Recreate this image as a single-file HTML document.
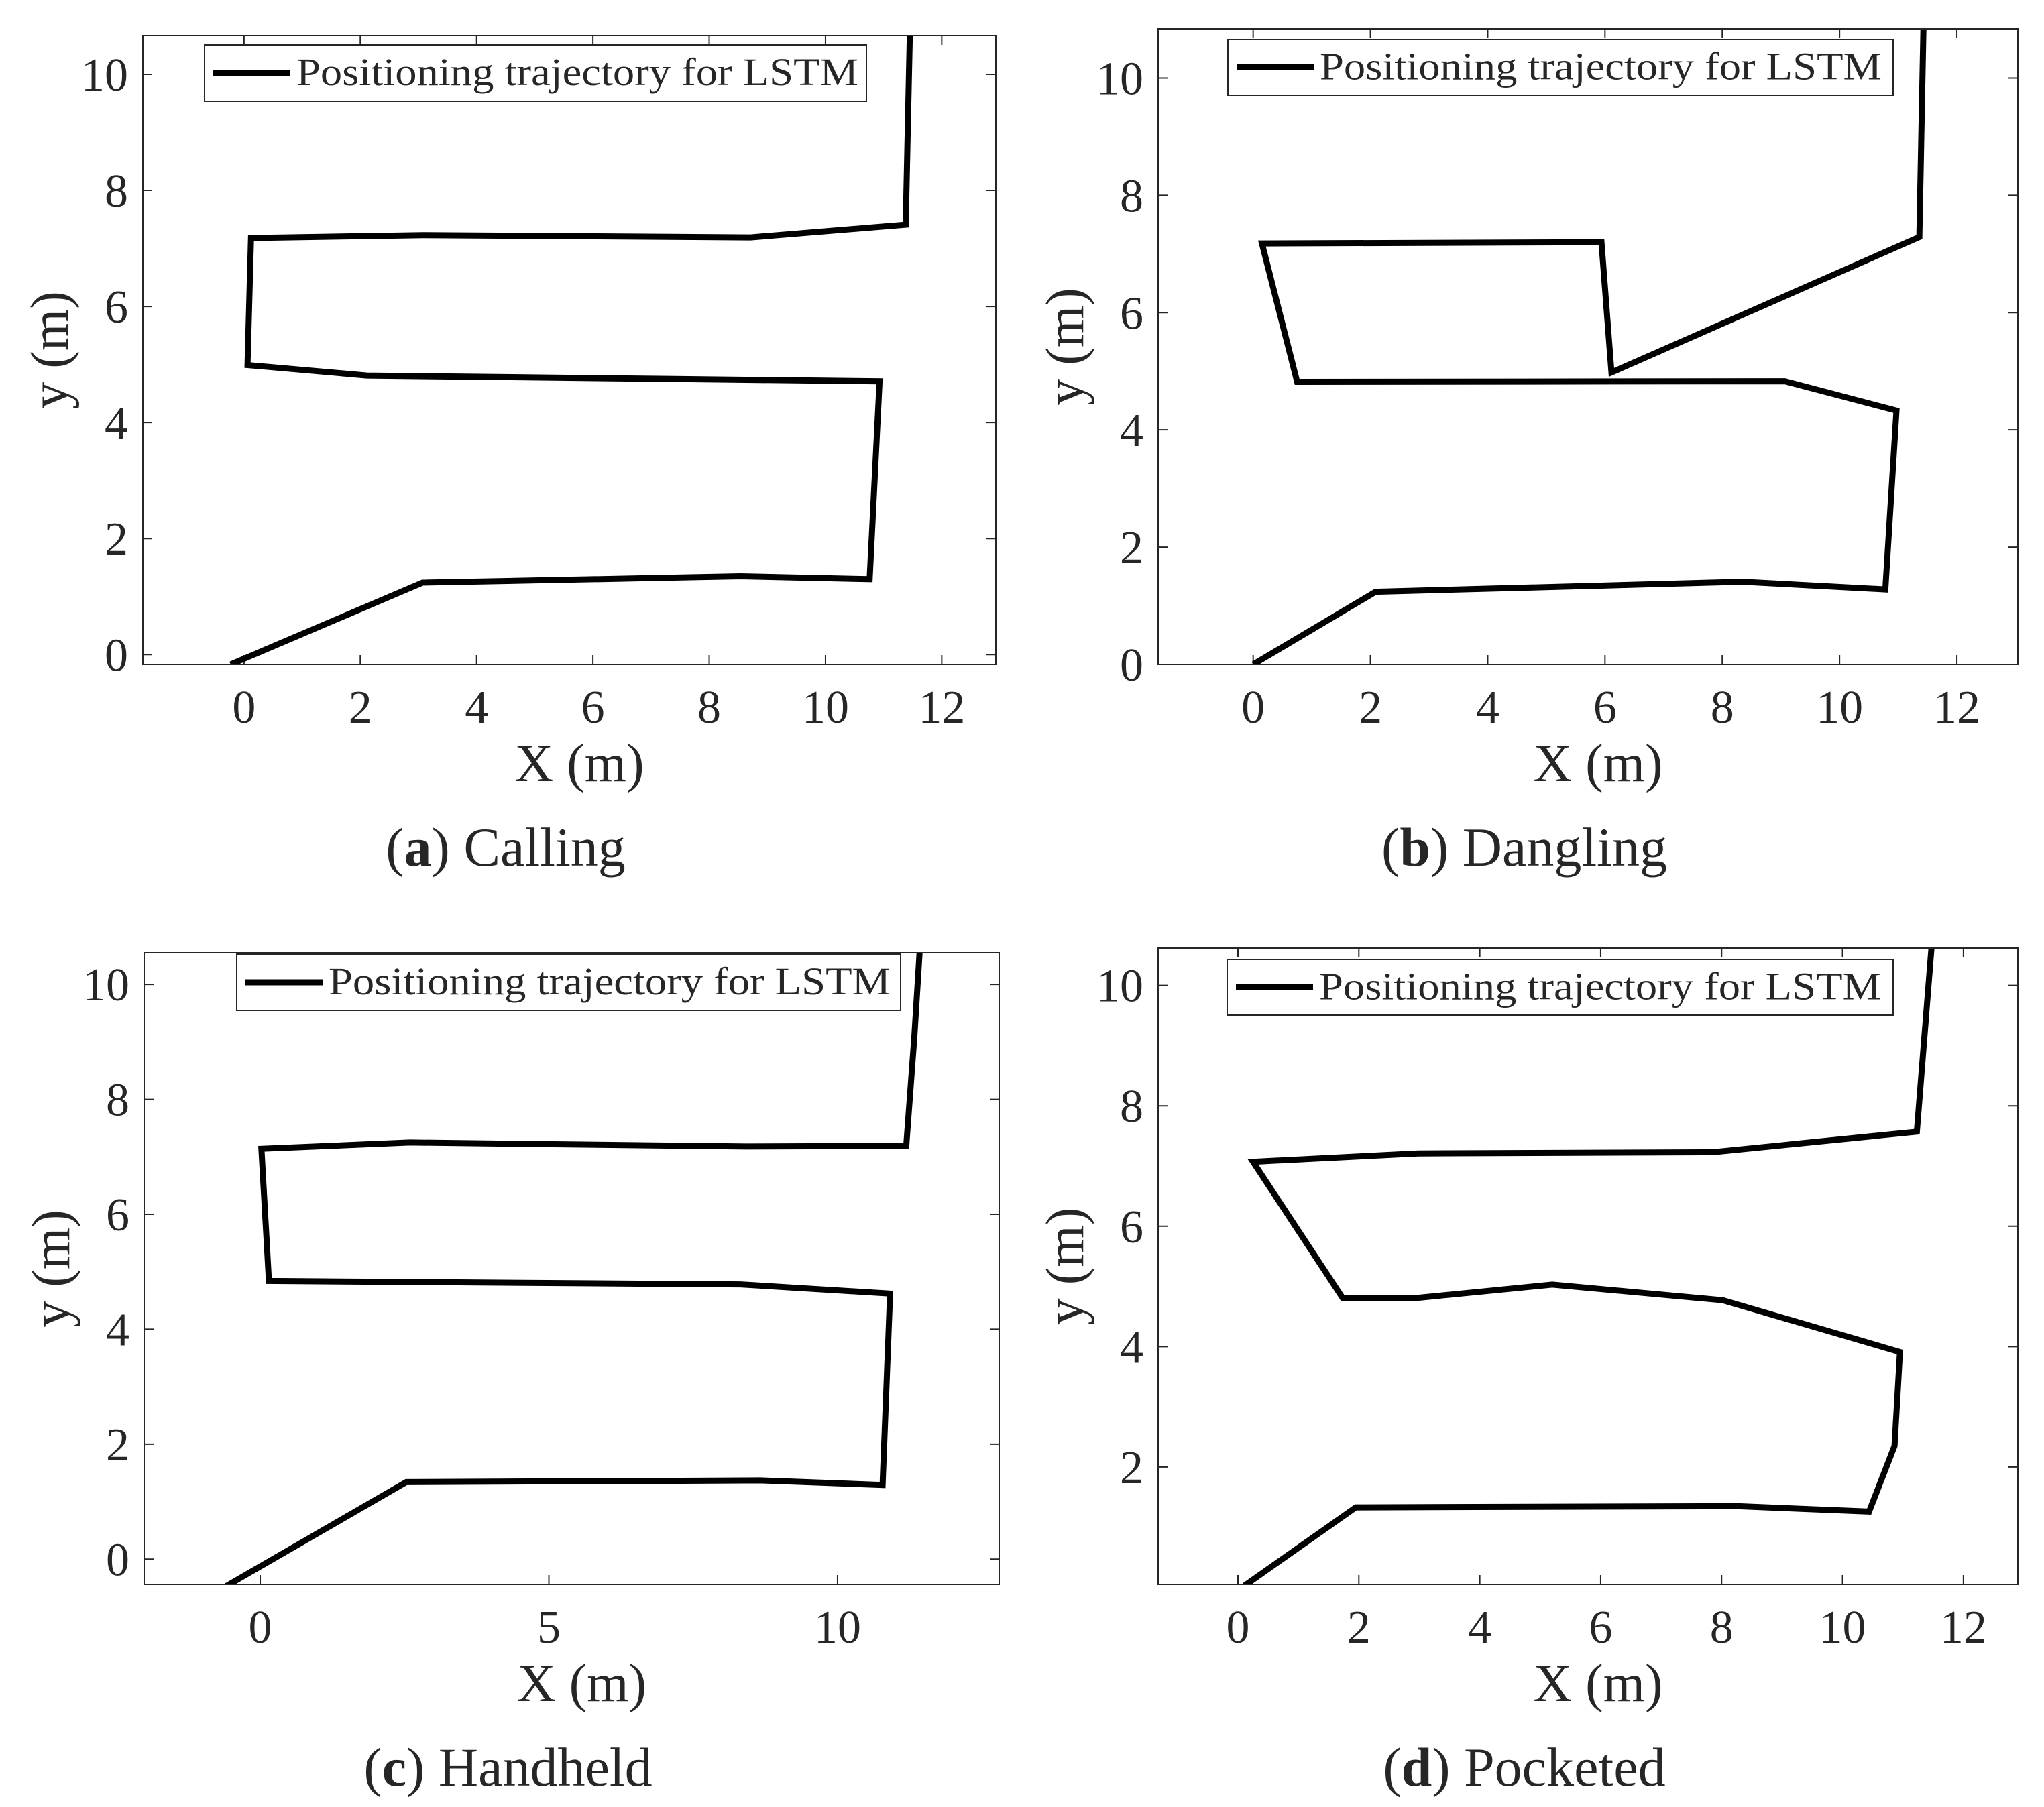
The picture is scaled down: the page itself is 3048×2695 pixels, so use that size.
<!DOCTYPE html>
<html><head><meta charset="utf-8"><style>
html,body{margin:0;padding:0;background:#fff;overflow:hidden;}
svg{display:block;}
text{font-family:"Liberation Serif",serif;fill:#262626;}
</style></head><body>
<svg id="fig" width="3048" height="2695" viewBox="0 0 3048 2695" xmlns="http://www.w3.org/2000/svg"></svg>
<script>
// Panel a: Calling
const callingX = [-0.23, 3.07, 8.54, 10.76, 10.93, 2.11, 0.06, 0.12, 3.07, 8.71, 11.38, 11.45];
const callingY = [-0.17, 1.24, 1.35, 1.30, 4.71, 4.81, 4.99, 7.18, 7.23, 7.19, 7.41, 10.67];
// Panel b: Dangling
const danglingX = [0, 2.09, 8.35, 10.78, 10.97, 9.07, 0.75, 0.15, 5.94, 6.11, 11.36, 11.43];
const danglingY = [0, 1.24, 1.41, 1.28, 4.33, 4.83, 4.82, 7.18, 7.20, 4.98, 7.29, 10.84];
// Panel c: Handheld
const handheldX = [-0.59, 2.53, 8.66, 10.78, 10.91, 8.32, 0.15, 0.02, 2.59, 8.43, 11.19, 11.33, 11.42];
const handheldY = [-0.47, 1.34, 1.37, 1.29, 4.62, 4.78, 4.84, 7.14, 7.25, 7.18, 7.19, 9.08, 10.54];
// Panel d: Pocketed
const pocketedX = [0.11, 1.95, 8.24, 10.44, 10.86, 10.95, 8.02, 5.20, 2.98, 1.73, 0.25, 2.98, 7.86, 11.23, 11.47];
const pocketedY = [0.03, 1.33, 1.35, 1.26, 2.35, 3.91, 4.77, 5.03, 4.81, 4.81, 7.07, 7.21, 7.23, 7.57, 10.61];
// ticks
const xTicksA = [0, 2, 4, 6, 8, 10, 12];
const xTicksC = [0, 5, 10];
const yTicksA = [0, 2, 4, 6, 8, 10];
const yTicksD = [2, 4, 6, 8, 10];

const NS = "http://www.w3.org/2000/svg";
const fig = document.getElementById('fig');
function mk(tag, attrs, parent){const e=document.createElementNS(NS,tag);for(const k in attrs)e.setAttribute(k,attrs[k]);(parent||fig).appendChild(e);return e;}

const panels = [
 {id:'calling', letter:'a', cap:'Calling', box:[213,53,1485,991], xl:[-1.74,12.93], yl:[-0.17,10.67], xs:callingX, ys:callingY, xt:xTicksA, yt:yTicksA, leg:[305,67,1292,151]},
 {id:'dangling', letter:'b', cap:'Dangling', box:[1727,43,3009,991], xl:[-1.62,13.04], yl:[0,10.84], xs:danglingX, ys:danglingY, xt:xTicksA, yt:yTicksA, leg:[1831,59,2823,142]},
 {id:'handheld', letter:'c', cap:'Handheld', box:[215,1421,1490,2363], xl:[-2.01,12.8], yl:[-0.44,10.55], xs:handheldX, ys:handheldY, xt:xTicksC, yt:yTicksA, leg:[353,1423,1343,1507]},
 {id:'pocketed', letter:'d', cap:'Pocketed', box:[1727,1414,3009,2363], xl:[-1.32,12.9], yl:[0.05,10.62], xs:pocketedX, ys:pocketedY, xt:xTicksA, yt:yTicksD, leg:[1830,1431,2823,1514]}
];

panels.forEach(p=>{
  const [L,T,R,B]=p.box;
  const sx=v=>L+(v-p.xl[0])/(p.xl[1]-p.xl[0])*(R-L);
  const sy=v=>B-(v-p.yl[0])/(p.yl[1]-p.yl[0])*(B-T);
  const g=mk('g',{});
  
  
  const clipId='clip-'+p.id;
  const cp=mk('clipPath',{id:clipId},g); mk('rect',{x:L,y:T,width:R-L,height:B-T},cp);
  p.xt.forEach(v=>{
    const x=sx(v);
    const t=mk('path',{d:`M${x} ${B}V${B-14}M${x} ${T}V${T+14}`,stroke:'#262626','stroke-width':2},g);
    
    
    const lb=mk('text',{x:x,y:B+87,'font-size':70,'text-anchor':'middle'},g); lb.textContent=v;
    
    
  });
  p.yt.forEach(v=>{
    const y=sy(v);
    const t=mk('path',{d:`M${L} ${y}H${L+14}M${R} ${y}H${R-14}`,stroke:'#262626','stroke-width':2},g);
    
    
    const lb=mk('text',{x:L-22,y:y+24,'font-size':70,'text-anchor':'end'},g); lb.textContent=v;
    
    
  });
  const d=p.xs.map((x,i)=>(i?'L':'M')+sx(x).toFixed(1)+' '+sy(p.ys[i]).toFixed(1)).join('');
  const ln=mk('path',{d:d,fill:'none',stroke:'#000','stroke-width':9,'stroke-linejoin':'miter','clip-path':`url(#${clipId})`},g);
  
  
  const bx=mk('rect',{x:L,y:T,width:R-L,height:B-T,fill:'none',stroke:'#262626','stroke-width':2},g);
  
  
  const [lx1,ly1,lx2,ly2]=p.leg;
  const lg=mk('g',{},g);
  
  
  mk('rect',{x:lx1,y:ly1,width:lx2-lx1,height:ly2-ly1,fill:'#fff',stroke:'#262626','stroke-width':2},lg);
  const ly=(ly1+ly2)/2;
  mk('line',{x1:lx1+13,x2:lx1+128,y1:ly,y2:ly,stroke:'#000','stroke-width':9},lg);
  const lt=mk('text',{x:lx1+137,y:ly+18,'font-size':58,textLength:838,lengthAdjust:'spacingAndGlyphs',fill:'#000'},lg);
  lt.textContent='Positioning trajectory for  LSTM';
  
  
  const cx=(L+R)/2, cy=(T+B)/2;
  const xlab=mk('text',{x:cx+15,y:B+174,'font-size':80,'text-anchor':'middle'},g); xlab.textContent='X (m)';
  
  
  const ylab=mk('text',{x:0,y:0,'font-size':80,'text-anchor':'middle',transform:`translate(${L-112},${cy}) rotate(-90)`},g); ylab.textContent='y (m)';
  
  
  const cap=mk('text',{x:cx-95,y:B+300,'font-size':82,'text-anchor':'middle',fill:'#000'},g);
  cap.innerHTML='(<tspan font-weight="bold">'+p.letter+'</tspan>) '+p.cap;
  
  
});
</script>
</body></html>
